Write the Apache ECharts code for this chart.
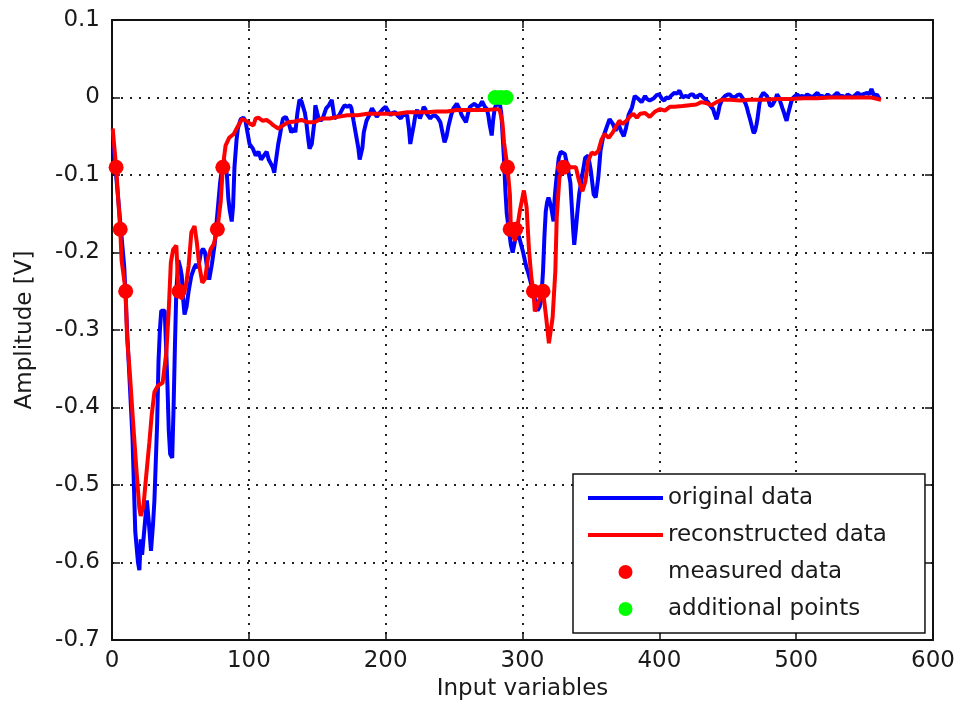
<!DOCTYPE html>
<html>
<head>
<meta charset="utf-8">
<script src="https://cdn.jsdelivr.net/npm/echarts@6/dist/echarts.min.js"></script>
<style>
  html, body { margin: 0; padding: 0; background: #fff; }
</style>
</head>
<body>
<div id="myChart" style="width:961px;height:711px;"></div>
<script>
  // original data (blue), [input variable, amplitude]
  var originalData = [
    [1,-0.06],[3,-0.1],[5,-0.14],[7,-0.18],[9,-0.22],[11,-0.3],[13,-0.37],[15,-0.44],[16,-0.5],[17,-0.56],
    [18,-0.58],[19,-0.6],[20,-0.61],[21,-0.57],[22,-0.59],[24,-0.55],[25.5,-0.52],[27,-0.55],[28.5,-0.585],[30,-0.55],
    [31,-0.52],[32,-0.47],[33,-0.42],[34,-0.34],[35,-0.3],[36,-0.275],[38.5,-0.275],[39.5,-0.32],[40.5,-0.37],[41.5,-0.43],
    [42.5,-0.46],[44,-0.465],[45,-0.4],[46,-0.32],[47,-0.25],[48.5,-0.21],[50,-0.22],[51,-0.23],[52,-0.26],[53,-0.28],
    [54.5,-0.27],[56,-0.25],[58,-0.23],[60,-0.22],[61.5,-0.215],[63,-0.22],[65,-0.2],[66.5,-0.195],[68,-0.2],[69.5,-0.22],
    [71,-0.235],[72,-0.225],[73,-0.215],[75,-0.19],[76,-0.17],[77,-0.15],[78,-0.13],[79,-0.11],[80.5,-0.09],[82,-0.08],
    [83,-0.09],[84,-0.1],[85,-0.13],[86,-0.145],[87.5,-0.16],[88.5,-0.14],[89.5,-0.09],[91,-0.055],[92,-0.04],[94,-0.028],
    [96,-0.026],[97.5,-0.03],[99,-0.045],[100.5,-0.06],[103,-0.066],[105,-0.075],[107,-0.07],[109,-0.08],[111,-0.075],[113,-0.07],
    [114.5,-0.08],[116,-0.085],[117.5,-0.09],[118.6,-0.097],[120,-0.079],[121.5,-0.06],[122.7,-0.049],[124,-0.035],[125,-0.027],[127,-0.025],
    [128,-0.023],[129.5,-0.035],[131,-0.045],[133,-0.04],[134,-0.045],[135.5,-0.02],[137,-0.003],[138.5,-0.005],[139.6,-0.003],[141,-0.02],
    [142,-0.032],[143.5,-0.055],[144.4,-0.066],[146,-0.06],[147,-0.058],[148,-0.03],[148.6,-0.01],[150,-0.02],[151,-0.027],[152.5,-0.03],
    [154,-0.027],[156.5,-0.014],[158.5,-0.01],[160.6,-0.003],[162.6,-0.027],[164,-0.028],[166,-0.023],[168.6,-0.014],[170,-0.01],[172,-0.012],
    [174,-0.01],[175,-0.014],[176.5,-0.03],[178,-0.045],[180,-0.065],[181,-0.08],[182,-0.081],[183,-0.065],[184,-0.045],[186,-0.03],
    [188,-0.023],[190,-0.014],[192,-0.02],[193.5,-0.025],[196,-0.019],[198,-0.015],[200,-0.012],[202,-0.018],[203.6,-0.023],[205,-0.02],
    [207,-0.019],[209,-0.024],[211,-0.027],[213,-0.022],[215.7,-0.023],[217,-0.04],[218,-0.06],[219,-0.05],[220.5,-0.036],[222,-0.02],
    [223,-0.016],[225,-0.027],[226.5,-0.02],[227.8,-0.012],[229,-0.015],[230,-0.021],[232.6,-0.027],[234,-0.024],[236,-0.023],[238,-0.026],
    [240,-0.032],[241.5,-0.045],[243,-0.058],[244.5,-0.05],[246,-0.036],[248,-0.022],[249.5,-0.014],[252,-0.008],[254,-0.015],[255.6,-0.023],
    [257,-0.025],[258.7,-0.032],[260,-0.022],[261.6,-0.012],[263,-0.01],[265,-0.008],[267,-0.012],[269,-0.01],[270.5,-0.005],[272.5,-0.012],
    [274,-0.015],[275,-0.023],[276,-0.035],[277.5,-0.049],[278.5,-0.03],[279.7,-0.014],[281,-0.008],[282,-0.01],[283.6,-0.01],[284.5,-0.02],
    [285.5,-0.05],[286.5,-0.08],[287.5,-0.12],[288.5,-0.15],[290,-0.17],[291.5,-0.19],[292.8,-0.2],[294.5,-0.185],[296,-0.175],[297.5,-0.18],
    [299,-0.19],[300.5,-0.2],[301.7,-0.21],[303,-0.22],[304,-0.225],[305.5,-0.235],[307,-0.245],[309,-0.26],[310,-0.27],[311,-0.275],
    [312.5,-0.27],[313.7,-0.26],[315,-0.224],[316,-0.18],[317,-0.147],[318,-0.135],[319,-0.129],[320,-0.135],[321,-0.142],[322.7,-0.16],
    [323.5,-0.13],[324.5,-0.11],[326.5,-0.078],[328,-0.07],[329,-0.069],[331,-0.073],[333,-0.09],[335,-0.11],[336,-0.14],[337,-0.17],
    [337.8,-0.19],[339,-0.17],[340,-0.15],[341.4,-0.125],[343.4,-0.103],[345.8,-0.078],[348,-0.075],[350,-0.095],[351,-0.11],[352,-0.125],
    [353.5,-0.129],[355.4,-0.103],[357,-0.069],[358.8,-0.052],[361,-0.041],[363.6,-0.028],[366,-0.034],[368,-0.043],[370,-0.034],[372,-0.043],
    [374,-0.05],[375.7,-0.039],[377.6,-0.022],[380,-0.013],[382,0.002],[384.8,-0.002],[387,-0.006],[389.6,0.002],[391,-0.002],[393,-0.004],
    [396,-0.001],[398,0.003],[400,0.004],[402,-0.002],[403.7,-0.004],[405,0],[407,-0.001],[409,0.003],[411,0.006],[413,0.005],
    [414.7,0.009],[417,0],[419,0.002],[421,0.001],[423,0.004],[424.6,0.004],[426,0],[428,0.002],[430,0.004],[432,0],
    [434,-0.003],[435.6,-0.006],[437,-0.01],[439.3,-0.015],[440.5,-0.022],[441.8,-0.028],[443,-0.02],[444,-0.011],[446,-0.002],[448,0.002],
    [450,0.004],[451.6,0.004],[453,0.001],[455,0],[457,0.003],[459,0.004],[461.4,-0.002],[463,-0.008],[464,-0.013],[465,-0.02],
    [466.3,-0.028],[467.3,-0.035],[468.3,-0.042],[469,-0.046],[470,-0.043],[471,-0.035],[471.7,-0.028],[473,-0.01],[474,0],[476,0.006],
    [478.6,0.002],[480,-0.005],[481,-0.011],[482.5,-0.01],[483.5,-0.012],[485,-0.002],[486,0.004],[487.5,0],[488.5,-0.006],[490,-0.014],
    [491,-0.019],[492,-0.025],[493,-0.03],[494,-0.022],[495,-0.015],[496.5,-0.005],[498,0],[500.7,0.004],[502.5,0.001],[504.4,0.002],
    [506,0],[508,0.004],[510,0.002],[511.8,0],[513.5,0.003],[515.5,0.006],[517,0.002],[519,0.002],[521,0],[523,0.004],
    [525,0.001],[526.5,0],[528,0.003],[530,0.006],[532,0.002],[534,0.002],[536,0],[537.6,0.004],[539,0.002],[541,0],
    [543,0.003],[545,0.006],[547,0.003],[548.6,0.004],[550,0.002],[552,0.006],[553.5,0.004],[555,0.011],[557,0.002],[559,0.004],
    [561,-0.002]
  ];

  // reconstructed data (red)
  var reconstructedData = [
    [0.5,-0.04],[1.5,-0.06],[3,-0.09],[4.5,-0.13],[6,-0.17],[7,-0.21],[8.5,-0.23],[10,-0.25],[11,-0.31],[13,-0.355],
    [15.6,-0.424],[18,-0.484],[20,-0.53],[21,-0.54],[23,-0.527],[25,-0.488],[27.3,-0.445],[29,-0.41],[31,-0.38],[33.5,-0.372],
    [37,-0.368],[39.7,-0.329],[41.4,-0.277],[43,-0.213],[44.7,-0.196],[47,-0.191],[48.4,-0.243],[49,-0.25],[51,-0.26],[54,-0.243],
    [56,-0.217],[58,-0.174],[60.3,-0.166],[62,-0.187],[63.8,-0.217],[66,-0.239],[68,-0.234],[70,-0.209],[72,-0.196],[74.4,-0.189],
    [77,-0.17],[79.4,-0.135],[81,-0.09],[83,-0.062],[85.6,-0.052],[89,-0.047],[92,-0.037],[95,-0.028],[98,-0.03],[101,-0.034],
    [103.4,-0.036],[105,-0.027],[107,-0.026],[110,-0.03],[113,-0.029],[115.5,-0.032],[118,-0.036],[121.5,-0.04],[125,-0.036],[128.7,-0.032],
    [133.6,-0.031],[138.4,-0.029],[143,-0.032],[148,-0.032],[153,-0.027],[159,-0.027],[165,-0.025],[172,-0.023],[179.5,-0.023],[186.7,-0.021],
    [194,-0.021],[201,-0.021],[208.5,-0.021],[215.7,-0.019],[223,-0.019],[230,-0.019],[237.4,-0.018],[244.7,-0.018],[252,-0.016],[259,-0.016],
    [266.4,-0.016],[273.7,-0.016],[281,-0.015],[283.3,-0.016],[285.3,-0.032],[286.5,-0.058],[289,-0.09],[290.8,-0.125],[291.5,-0.17],[294.5,-0.185],
    [296,-0.17],[298,-0.147],[301,-0.12],[303,-0.142],[304.8,-0.198],[306.5,-0.233],[308,-0.25],[309,-0.276],[311,-0.267],[313.7,-0.254],
    [315,-0.25],[317.3,-0.284],[319.3,-0.317],[320,-0.319],[322,-0.284],[324,-0.224],[325,-0.155],[327,-0.103],[330,-0.09],[333,-0.088],
    [335.4,-0.09],[339,-0.09],[341.4,-0.108],[343.8,-0.121],[346,-0.108],[348,-0.082],[350.6,-0.071],[353,-0.073],[355.4,-0.069],[357.8,-0.054],
    [360,-0.047],[363,-0.052],[366,-0.045],[368.4,-0.037],[370.8,-0.03],[373,-0.034],[376,-0.03],[378.8,-0.024],[381,-0.021],[383.6,-0.026],
    [386,-0.021],[389.6,-0.02],[393,-0.025],[397,-0.018],[400.5,-0.015],[404,-0.017],[407.7,-0.012],[411,-0.012],[417,-0.011],[422,-0.01],
    [427,-0.009],[430.7,-0.006],[434,-0.007],[438,-0.01],[441.8,-0.006],[445.5,-0.003],[451.6,-0.003],[459,-0.004],[466,-0.003],[476,-0.003],
    [486,-0.002],[496,-0.002],[505.6,-0.001],[515.5,-0.001],[525,0],[535,0],[545,0],[555,0],[562,-0.003]
  ];

  var measuredPoints = [
    [3,-0.09],[6,-0.17],[10,-0.25],[49,-0.25],[77,-0.17],[81,-0.09],
    [289,-0.09],[291,-0.17],[295,-0.17],[308,-0.25],[315,-0.25],[330,-0.09]
  ];

  var additionalPoints = [[280,0],[284,0],[288,0]];

  var seriesNames = ['original data', 'reconstructed data', 'measured data', 'additional points'];

  var fontFamily = 'DejaVu Sans';
  var textColor = '#1a1a1a';
  // plain bar used as the legend icon of the two lines
  var lineIcon = 'path://M0,0L75,0L75,4L0,4Z';

  var myChart = echarts.init(document.getElementById('myChart'));

  var tickStyle = {show: true, inside: true, length: 8, lineStyle: {color: '#111', width: 1.5}};
  var frameLine = {show: true, onZero: false, lineStyle: {color: '#111', width: 2}};
  var dotted = {show: true, lineStyle: {color: '#222', width: 2, type: [2, 7]}};

  var option = {
    animation: false,
    backgroundColor: '#fff',
    grid: {left: 112, right: 28, top: 20, bottom: 71},
    legend: {
      data: [
        {name: seriesNames[0], icon: lineIcon},
        {name: seriesNames[1], icon: lineIcon},
        {name: seriesNames[2], icon: 'circle'},
        {name: seriesNames[3], icon: 'circle'}
      ],
      orient: 'vertical',
      left: 573,
      top: 474,
      itemWidth: 75,
      itemHeight: 14,
      itemGap: 13,
      padding: [12, 38, 12, 15],
      backgroundColor: '#fff',
      borderColor: '#111',
      borderWidth: 1.5,
      borderRadius: 0,
      textStyle: {fontFamily: fontFamily, fontSize: 23, color: textColor, lineHeight: 24}
    },
    xAxis: [{
      type: 'value',
      min: 0, max: 600, interval: 100,
      position: 'bottom',
      name: 'Input variables',
      nameLocation: 'middle',
      nameGap: 38,
      nameTextStyle: {fontFamily: fontFamily, fontSize: 23, color: textColor},
      axisLine: frameLine,
      axisTick: tickStyle,
      axisLabel: {fontFamily: fontFamily, fontSize: 23, color: textColor, margin: 10},
      splitLine: dotted
    }, {
      type: 'value',
      min: 0, max: 600, interval: 100,
      position: 'top',
      axisLine: frameLine,
      axisTick: tickStyle,
      axisLabel: {show: false},
      splitLine: {show: false}
    }],
    yAxis: [{
      type: 'value',
      min: -0.7, max: 0.1, interval: 0.1,
      position: 'left',
      name: 'Amplitude [V]',
      nameLocation: 'middle',
      nameGap: 75,
      nameTextStyle: {fontFamily: fontFamily, fontSize: 23, color: textColor},
      axisLine: frameLine,
      axisTick: tickStyle,
      axisLabel: {
        fontFamily: fontFamily, fontSize: 23, color: textColor, margin: 12,
        formatter: function (v) { return String(Math.round(v * 10) / 10); }
      },
      splitLine: dotted
    }, {
      type: 'value',
      min: -0.7, max: 0.1, interval: 0.1,
      position: 'right',
      axisLine: frameLine,
      axisTick: tickStyle,
      axisLabel: {show: false},
      splitLine: {show: false}
    }],
    series: [
      {
        name: seriesNames[0],
        type: 'line',
        data: originalData,
        symbol: 'none',
        color: '#0000ff',
        lineStyle: {color: '#0000ff', width: 4},
        z: 2
      },
      {
        name: seriesNames[1],
        type: 'line',
        data: reconstructedData,
        symbol: 'none',
        color: '#ff0000',
        lineStyle: {color: '#ff0000', width: 4},
        z: 3
      },
      {
        name: seriesNames[2],
        type: 'scatter',
        data: measuredPoints,
        symbol: 'circle',
        symbolSize: 15,
        itemStyle: {color: '#ff0000', opacity: 1},
        z: 4
      },
      {
        name: seriesNames[3],
        type: 'scatter',
        data: additionalPoints,
        symbol: 'circle',
        symbolSize: 15,
        itemStyle: {color: '#00ff00', opacity: 1},
        z: 5
      }
    ]
  };

  myChart.setOption(option);
</script>
</body>
</html>
